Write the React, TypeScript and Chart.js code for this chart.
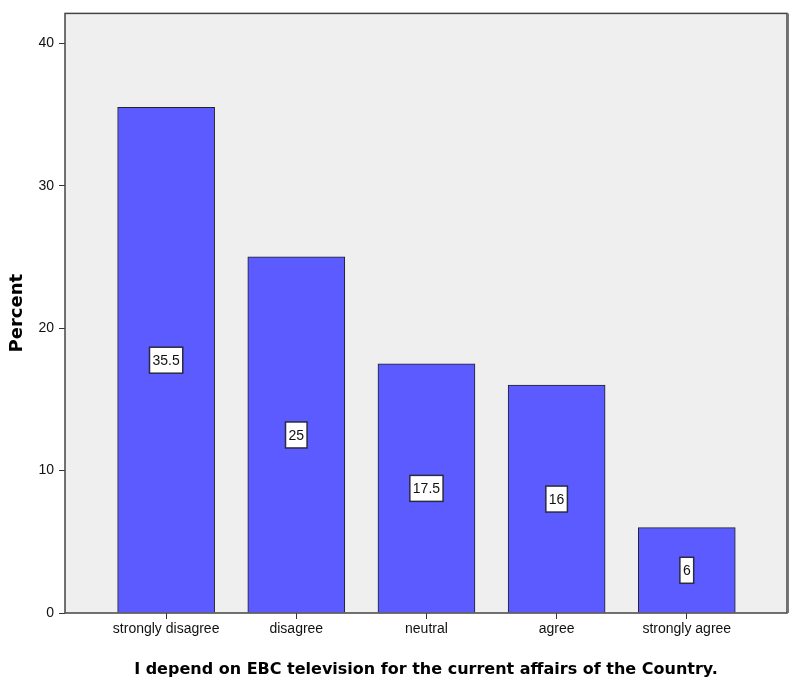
import React, { useEffect, useRef } from "react";
import { Chart, registerables } from "chart.js";

Chart.register(...registerables);

const categories = ["strongly disagree", "disagree", "neutral", "agree", "strongly agree"];
const percents = [35.5, 25, 17.5, 16, 6];
const valueLabels = ["35.5", "25", "17.5", "16", "6"];
const yTicks = [0, 10, 20, 30, 40];
const yTitle = "Percent";
const xTitle = "I depend on EBC television for the current affairs of the Country.";

const W = 790;
const H = 679;

const plotBg = {
  id: "plotBg",
  beforeDraw(chart: any) {
    const { ctx, chartArea: a } = chart;
    ctx.save();
    ctx.fillStyle = "#efefef";
    ctx.fillRect(a.left, a.top, a.right - a.left, a.bottom - a.top);
    ctx.restore();
  },
  afterDatasetsDraw(chart: any) {
    const { ctx, chartArea: a } = chart;
    ctx.save();
    ctx.strokeStyle = "#444";
    ctx.lineWidth = 1.5;
    ctx.strokeRect(a.left, a.top, a.right - a.left, a.bottom - a.top);
    ctx.strokeStyle = "#777";
    ctx.lineWidth = 1;
    ctx.beginPath();
    ctx.moveTo(a.right + 1.5, a.top);
    ctx.lineTo(a.right + 1.5, a.bottom);
    ctx.stroke();
    // value labels
    const xs = chart.scales.x;
    const ys = chart.scales.y;
    ctx.font = "14px 'Liberation Sans', Arial, sans-serif";
    ctx.textAlign = "center";
    ctx.textBaseline = "middle";
    percents.forEach((v, i) => {
      const cx = xs.getPixelForValue(i);
      const cy = ys.getPixelForValue(v / 2);
      const tw = ctx.measureText(valueLabels[i]).width;
      const bw = tw + 6;
      const bh = 26;
      ctx.fillStyle = "#ffffff";
      ctx.fillRect(cx - bw / 2, cy - bh / 2, bw, bh);
      ctx.strokeStyle = "#2a2a40";
      ctx.lineWidth = 1.5;
      ctx.strokeRect(cx - bw / 2, cy - bh / 2, bw, bh);
      ctx.fillStyle = "#111";
      ctx.fillText(valueLabels[i], cx, cy + 1);
    });
    ctx.restore();
  },
};

export default function App() {
  const ref = useRef<HTMLCanvasElement | null>(null);
  useEffect(() => {
    document.body.style.margin = "0";
    const canvas = ref.current!;
    const chart = new Chart(canvas, {
      type: "bar",
      data: {
        datasets: [
          {
            data: percents.map((v, i) => ({ x: i, y: v })),
            backgroundColor: "#5b5bff",
            borderColor: "#222",
            borderWidth: 1,
            barThickness: 97,
          },
        ],
      },
      options: {
        animation: false,
        responsive: false,
        devicePixelRatio: 1,
        layout: { padding: { top: 10, right: 3, left: 0, bottom: 0 } },
        plugins: { legend: { display: false }, tooltip: { enabled: false } },
        scales: {
          x: {
            type: "linear",
            offset: false,
            min: -0.777,
            max: 4.77,
            afterBuildTicks(scale: any) {
              scale.ticks = categories.map((_, i) => ({ value: i }));
            },
            afterFit(scale: any) {
              scale.height = H - 613;
            },
            ticks: {
              callback: (v: any) => categories[v] ?? "",
              font: { family: "'Liberation Sans', Arial, sans-serif", size: 14 },
              color: "#111",
              padding: 2,
              maxRotation: 0,
              autoSkip: false,
            },
            grid: { offset: false, drawOnChartArea: false, tickLength: 6, color: "#333", lineWidth: 1 },
            border: { display: false },
            title: {
              display: true,
              text: xTitle,
              font: { family: "'DejaVu Sans', sans-serif", size: 16, weight: "bold" },
              color: "#000",
              padding: { top: 12, bottom: 0 },
            },
          },
          y: {
            min: 0,
            max: 42.1,
            afterBuildTicks(scale: any) {
              scale.ticks = yTicks.map((v) => ({ value: v }));
            },
            afterFit(scale: any) {
              scale.width = 65;
            },
            ticks: {
              font: { family: "'Liberation Sans', Arial, sans-serif", size: 14 },
              color: "#111",
              padding: 5,
            },
            grid: { drawOnChartArea: false, tickLength: 6, color: "#333", lineWidth: 1 },
            border: { display: false },
            title: {
              display: true,
              text: yTitle,
              font: { family: "'DejaVu Sans', sans-serif", size: 18, weight: "bold" },
              color: "#000",
              padding: { top: 7, bottom: 0 },
            },
          },
        },
      },
      plugins: [plotBg],
    } as any);
    return () => chart.destroy();
  }, []);
  return <canvas ref={ref} width={W} height={H} style={{ display: "block" }} />;
}
